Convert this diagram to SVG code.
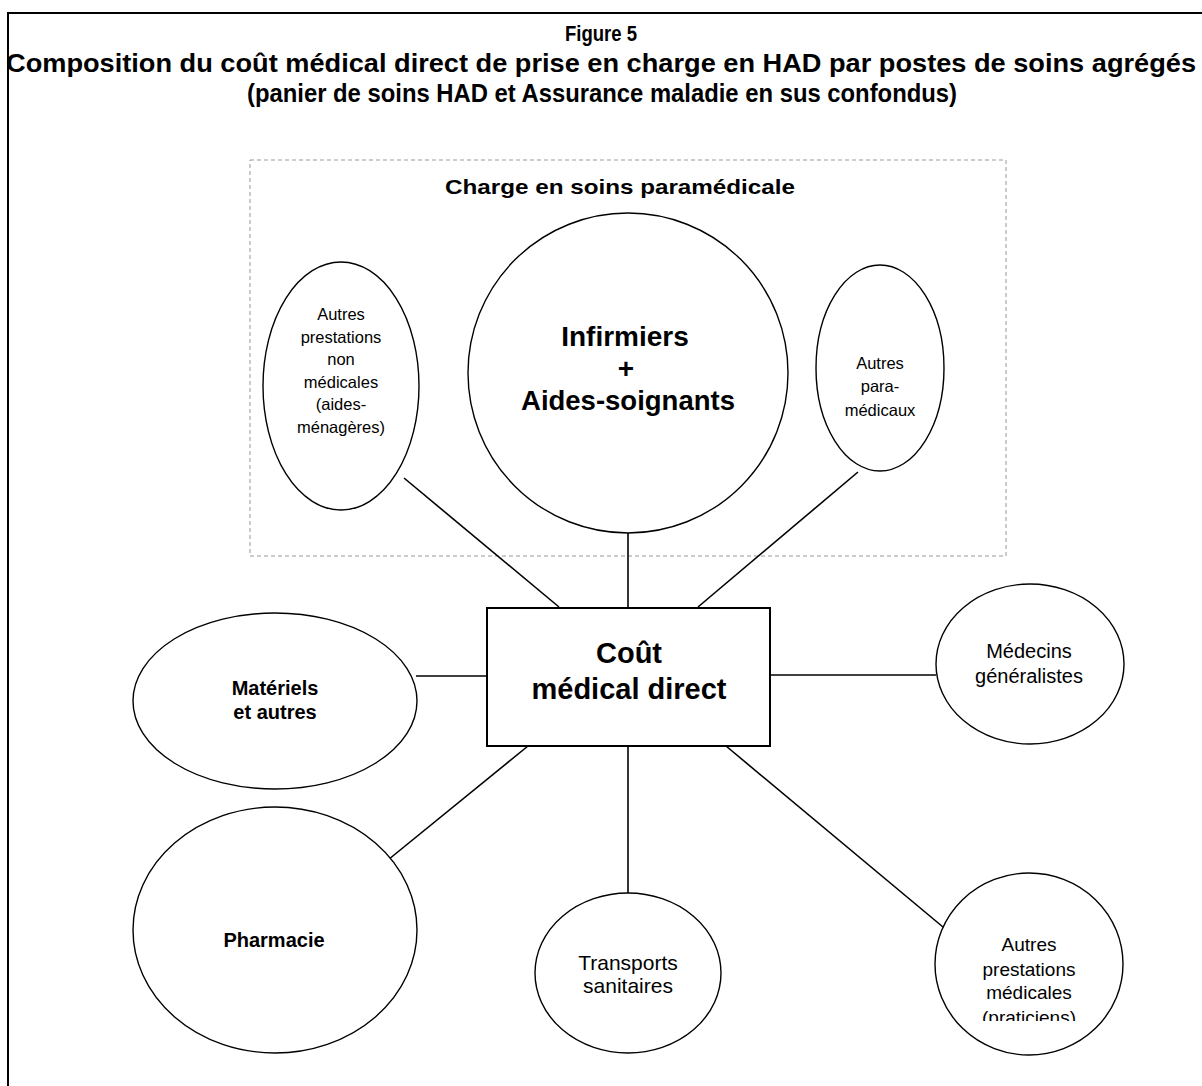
<svg xmlns="http://www.w3.org/2000/svg" width="1202" height="1086" viewBox="0 0 1202 1086">
<style>
.t{font-family:"Liberation Sans",Arial,sans-serif;fill:#000;text-anchor:middle}
.b{font-weight:bold}
.n{fill:#fff;stroke:#000;stroke-width:1.4}
.c line{stroke:#000;stroke-width:1.6}
</style>
<defs><clipPath id="clipP"><rect x="930" y="870" width="200" height="151"/></clipPath></defs>
<rect width="1202" height="1086" fill="#fff"/>
<path d="M1210 13 H8 V1100" fill="none" stroke="#000" stroke-width="2"/>
<g id="title">
<text class="t b" x="601" y="41" font-size="22" textLength="72" lengthAdjust="spacingAndGlyphs">Figure 5</text>
<text class="t b" x="601" y="72" font-size="25" textLength="1190" lengthAdjust="spacingAndGlyphs">Composition du coût médical direct de prise en charge en HAD par postes de soins agrégés</text>
<text class="t b" x="602" y="102" font-size="25" textLength="710" lengthAdjust="spacingAndGlyphs">(panier de soins HAD et Assurance maladie en sus confondus)</text>
</g>
<g id="group-paramedical">
<rect x="250" y="160" width="756" height="396" fill="none" stroke="#999" stroke-width="1" stroke-dasharray="4 3"/>
<text class="t b" x="620" y="194" font-size="21" textLength="350" lengthAdjust="spacingAndGlyphs">Charge en soins paramédicale</text>
</g>
<g class="c" id="connectors">
<line x1="628" y1="533" x2="628" y2="608"/>
<line x1="404" y1="478" x2="559" y2="607"/>
<line x1="858" y1="472" x2="698" y2="607"/>
<line x1="416" y1="676" x2="487" y2="676"/>
<line x1="770" y1="675" x2="936" y2="675"/>
<line x1="383" y1="864" x2="528" y2="746"/>
<line x1="628" y1="746" x2="628" y2="893"/>
<line x1="726" y1="746" x2="943" y2="927"/>
</g>
<g id="n-aidesmenageres">
<ellipse class="n" cx="341" cy="386" rx="78" ry="124"/>
<text class="t" x="341" y="320" font-size="16.5">Autres</text>
<text class="t" x="341" y="342.5" font-size="16.5">prestations</text>
<text class="t" x="341" y="365" font-size="16.5">non</text>
<text class="t" x="341" y="387.5" font-size="16.5">médicales</text>
<text class="t" x="341" y="410" font-size="16.5">(aides-</text>
<text class="t" x="341" y="432.5" font-size="16.5">ménagères)</text>
</g>
<g id="n-infirmiers">
<circle class="n" cx="628" cy="373" r="160"/>
<text class="t b" x="625" y="346" font-size="28">Infirmiers</text>
<text class="t b" x="626" y="378" font-size="28">+</text>
<text class="t b" x="628" y="410" font-size="27.5">Aides-soignants</text>
</g>
<g id="n-paramedicaux">
<ellipse class="n" cx="880" cy="368" rx="64" ry="103"/>
<text class="t" x="880" y="369" font-size="16.5">Autres</text>
<text class="t" x="880" y="392" font-size="16.5">para-</text>
<text class="t" x="880" y="416" font-size="16.5">médicaux</text>
</g>
<g id="n-cout">
<rect x="487" y="608" width="283" height="138" fill="#fff" stroke="#000" stroke-width="2"/>
<text class="t b" x="629" y="663" font-size="29">Coût</text>
<text class="t b" x="629" y="699" font-size="29">médical direct</text>
</g>
<g id="n-materiels">
<ellipse class="n" cx="275" cy="701" rx="142" ry="88"/>
<text class="t b" x="275" y="695" font-size="20">Matériels</text>
<text class="t b" x="275" y="719" font-size="20">et autres</text>
</g>
<g id="n-medecins">
<ellipse class="n" cx="1030" cy="664" rx="94" ry="80"/>
<text class="t" x="1029" y="658" font-size="20">Médecins</text>
<text class="t" x="1029" y="683" font-size="20">généralistes</text>
</g>
<g id="n-pharmacie">
<ellipse class="n" cx="275" cy="930" rx="142" ry="123"/>
<text class="t b" x="274" y="947" font-size="20">Pharmacie</text>
</g>
<g id="n-transports">
<ellipse class="n" cx="628" cy="973" rx="93" ry="80"/>
<text class="t" x="628" y="970" font-size="21">Transports</text>
<text class="t" x="628" y="993" font-size="21">sanitaires</text>
</g>
<g id="n-praticiens">
<ellipse class="n" cx="1029" cy="964" rx="94" ry="91"/>
<text class="t" x="1029" y="951" font-size="19">Autres</text>
<text class="t" x="1029" y="976" font-size="19">prestations</text>
<text class="t" x="1029" y="999" font-size="19">médicales</text>
<text class="t" x="1029" y="1024" font-size="19" clip-path="url(#clipP)">(praticiens)</text>
</g>
</svg>
